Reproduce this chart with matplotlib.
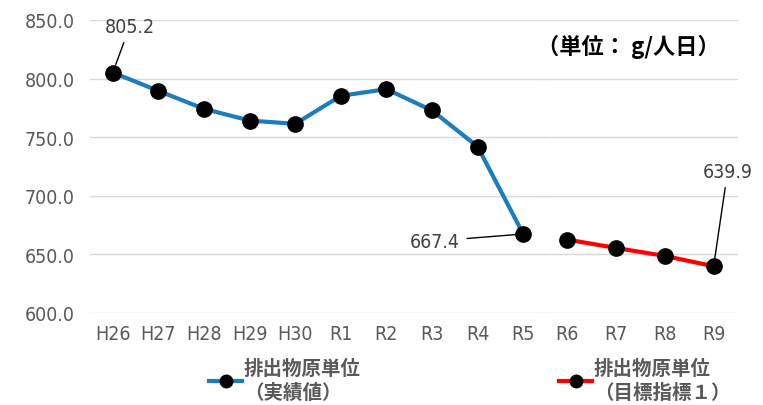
import matplotlib
matplotlib.use("Agg")
import matplotlib.pyplot as plt
from matplotlib.lines import Line2D

plt.rcParams['font.family'] = ['Noto Sans CJK JP', 'DejaVu Sans']

actual_years = ["H26", "H27", "H28", "H29", "H30", "R1", "R2", "R3", "R4", "R5"]
actual_values = [805.2, 789.5, 774.2, 764.2, 761.4, 785.3, 791.0, 772.8, 742.0, 667.4]
target_years = ["R6", "R7", "R8", "R9"]
target_values = [662.6, 655.5, 648.7, 639.9]
y_ticks = [600, 650, 700, 750, 800, 850]
legend_actual = "排出物原単位\n（実績値）"
legend_target = "排出物原単位\n（目標指標１）"
unit_label = "（単位： g/人日）"

BLUE = "#1B7CC0"
RED = "#FF0000"
GRAY = "#595959"
DARK = "#404040"
GRID = "#D9D9D9"

num_font = dict(family=['DejaVu Sans'], stretch='condensed', size=14)

fig = plt.figure(figsize=(7.63, 4.06), dpi=100)
bottom = 1 - 314 / 406
top = 1 - 21 / 406
axL = fig.add_axes([90 / 763, bottom, 456 / 763, top - bottom])
axR = fig.add_axes([543 / 763, bottom, 195 / 763, top - bottom])

for ax, cats in ((axL, actual_years), (axR, target_years)):
    ax.set_ylim(600, 850)
    ax.set_yticks(y_ticks)
    ax.set_xlim(-0.5, len(cats) - 0.5)
    ax.set_xticks(range(len(cats)))
    ax.set_xticklabels(cats, color=GRAY, **num_font)
    ax.grid(axis='y', color=GRID, linewidth=1)
    ax.set_axisbelow(True)
    for s in ax.spines.values():
        s.set_visible(False)
    ax.tick_params(axis='x', length=0, pad=8)
    ax.patch.set_alpha(0)

axL.set_yticklabels([f"{v:.1f}" for v in y_ticks], color=GRAY, **num_font)
axL.tick_params(axis='y', length=0, pad=11)
axR.set_yticklabels([])
axR.tick_params(axis='y', length=0)

axL.plot(range(len(actual_years)), actual_values, color=BLUE, linewidth=3,
         marker='o', markersize=11, markerfacecolor='black', markeredgecolor='black',
         clip_on=False, zorder=3)
axR.plot(range(len(target_years)), target_values, color=RED, linewidth=3,
         marker='o', markersize=11, markerfacecolor='black', markeredgecolor='black',
         clip_on=False, zorder=3)

ann_kw = dict(textcoords='offset pixels', color=DARK, ha='center', va='center',
              arrowprops=dict(arrowstyle='-', color='black', linewidth=1,
                              shrinkA=3, shrinkB=6))
axL.annotate(f"{actual_values[0]:.1f}", xy=(0, actual_values[0]), xytext=(17, 46),
             **ann_kw, **num_font)
axL.annotate(f"{actual_values[-1]:.1f}", xy=(len(actual_years) - 1, actual_values[-1]),
             xytext=(-88, -7), **ann_kw, **num_font)
axR.annotate(f"{target_values[-1]:.1f}", xy=(len(target_years) - 1, target_values[-1]),
             xytext=(14, 95), **ann_kw, **num_font)

fig.text(628 / 763, 1 - 47 / 406, unit_label, fontsize=16, fontweight='bold',
         color='black', ha='center', va='center')

h1 = Line2D([], [], color=BLUE, linewidth=3, marker='o', markersize=9,
            markerfacecolor='black', markeredgecolor='black')
h2 = Line2D([], [], color=RED, linewidth=3, marker='o', markersize=9,
            markerfacecolor='black', markeredgecolor='black')
leg_kw = dict(frameon=False, handlelength=1.7, handletextpad=0.1,
              borderpad=0, borderaxespad=0, labelcolor=GRAY, loc='upper left',
              prop=dict(size=14, weight='bold'))
for h, lab, x in ((h1, legend_actual, 209), (h2, legend_target, 559)):
    leg = fig.legend([h], [lab], bbox_to_anchor=(x / 763, 1 - 360 / 406), **leg_kw)
    for t in leg.get_texts():
        t.set_linespacing(1.3)

fig.savefig("out.png", dpi=100)
